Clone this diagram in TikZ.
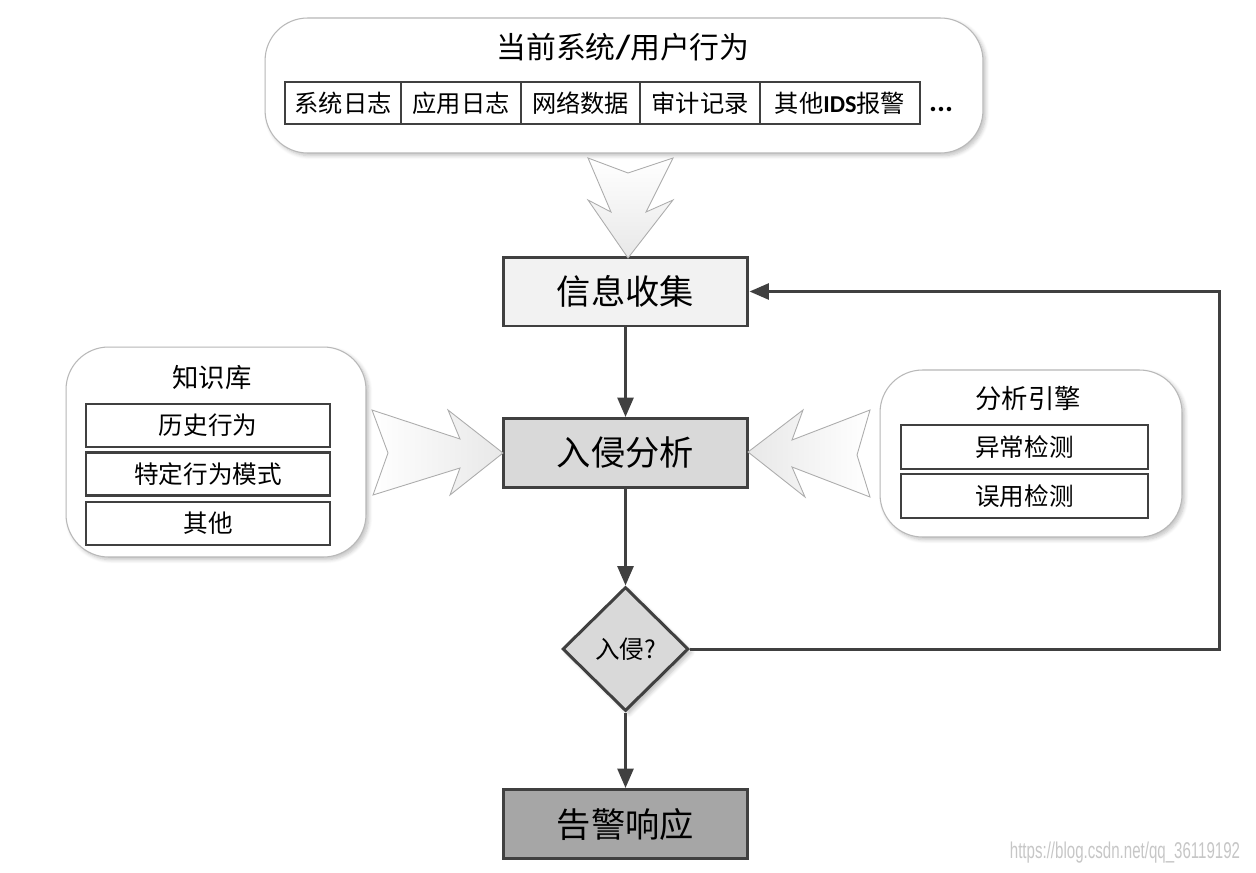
\documentclass[tikz,border=0pt]{standalone}
\usepackage{fontspec}
\setmainfont{Noto Sans CJK SC}
\newfontfamily\latinbold{Carlito}
\newfontfamily\markfont{Liberation Sans}
\usetikzlibrary{shapes.geometric,arrows.meta,shadows.blur}

\definecolor{edgegray}{HTML}{404040}
\definecolor{panelgray}{HTML}{B8B8B8}
\definecolor{fillone}{HTML}{F2F2F2}
\definecolor{filltwo}{HTML}{D9D9D9}
\definecolor{fillthree}{HTML}{A6A6A6}

\tikzset{
  panel/.style={draw=panelgray, fill=white, line width=0.6pt, rounded corners=0.85cm,
    blur shadow={shadow xshift=1.5pt, shadow yshift=-1.5pt, shadow blur steps=6, shadow opacity=25}},
  cell/.style={draw=edgegray, fill=white, line width=1.3pt, inner sep=0pt},
  stage/.style={draw=edgegray, line width=1.7pt, minimum width=4.9cm, minimum height=1.38cm,
    font=\fontsize{19.5}{22}\selectfont},
  conn/.style={draw=edgegray, line width=1.7pt, -{Triangle[length=11pt,width=9pt]}},
  hollow/.style={draw=gray!65, line width=0.5pt},
}

\begin{document}
\begin{tikzpicture}[x=0.02cm, y=-0.02cm]
  \useasboundingbox (0,0) rectangle (1256,872);

  % current behaviour panel
  \node[panel, minimum width=14.36cm, minimum height=2.7cm] (behav) at (624,85.5) {};
  \node[font=\fontsize{17}{20}\selectfont] (behavtitle) at (623,47) {当前系统{\latinbold\bfseries\fontsize{19}{20}\selectfont /}用户行为};
  \begin{scope}[every node/.style={cell, minimum height=0.84cm, font=\fontsize{13.8}{16}\selectfont}]
    \node[minimum width=2.32cm] (syslog) at (343,103) {系统日志};
    \node[minimum width=2.40cm] (applog) at (461,103) {应用日志};
    \node[minimum width=2.38cm] (netdata) at (580.5,103) {网络数据};
    \node[minimum width=2.40cm] (audit) at (700,103) {审计记录};
    \node[minimum width=3.20cm] (otherids) at (840,103) {其他{\latinbold\bfseries IDS}报警};
  \end{scope}
  \node[font=\latinbold\bfseries\fontsize{17}{18}\selectfont, anchor=base] (more) at (941,111) {...};

  % knowledge base panel
  \node[panel, minimum width=6cm, minimum height=4.2cm] (kb) at (216,452) {};
  \node[font=\fontsize{15}{18}\selectfont] (kbtitle) at (212,378) {知识库};
  \begin{scope}[every node/.style={cell, minimum width=4.88cm, minimum height=0.86cm, font=\fontsize{14}{16}\selectfont}]
    \node (history) at (208,425.5) {历史行为};
    \node (pattern) at (208,474) {特定行为模式};
    \node (kbother) at (208,523.5) {其他};
  \end{scope}

  % analysis engine panel
  \node[panel, minimum width=6.04cm, minimum height=3.34cm] (engine) at (1031,453.5) {};
  \node[font=\fontsize{15}{18}\selectfont] (enginetitle) at (1028,398) {分析引擎};
  \begin{scope}[every node/.style={cell, minimum width=4.94cm, minimum height=0.88cm, font=\fontsize{14}{16}\selectfont}]
    \node (anomaly) at (1024.5,447) {异常检测};
    \node (misuse) at (1024.5,496) {误用检测};
  \end{scope}

  % flow
  \node[stage, fill=fillone] (collect) at (625.5,291.5) {信息收集};
  \node[stage, fill=filltwo] (analyse) at (625.5,453) {入侵分析};
  \node[draw=edgegray, fill=filltwo, line width=1.7pt, shape=diamond, aspect=1, inner sep=0pt,
    minimum width=2.52cm, minimum height=2.48cm, font=\fontsize{14}{16}\selectfont,
    blur shadow={shadow xshift=2pt, shadow yshift=-2pt, shadow blur steps=5, shadow opacity=25}]
    (decide) at (625.5,649) {入侵?};
  \node[stage, fill=fillthree] (alarm) at (625.5,824) {告警响应};

  % hollow arrows
  \draw[hollow, top color=white, bottom color=gray!18]
    (588,158) -- (628,173) -- (673,158) -- (646,212) -- (673,200) -- (628,258)
    -- (588,200) -- (611,212) -- cycle;
  \draw[hollow, left color=white, right color=gray!18]
    (372,410) -- (460,439) -- (448,410) -- (503,453) -- (450,495) -- (460,468)
    -- (373,495) -- (388,453) -- cycle;
  \draw[hollow, left color=gray!18, right color=white]
    (870,410) -- (792,440) -- (803,410) -- (748,452) -- (805,497) -- (792,467)
    -- (870,497) -- (857,455) -- cycle;

  % connectors
  \coordinate (loop) at (1219,649);
  \draw[conn] (collect) -- (analyse);
  \draw[conn] (analyse) -- (decide);
  \draw[conn] (decide) -- (alarm);
  \draw[conn] (decide.east) -- (loop) |- (collect.east);

  \node[font=\markfont\fontsize{13}{15}\selectfont, text=gray!45, xscale=0.66] (mark) at (1125,853) {https://blog.csdn.net/qq\_36119192};
\end{tikzpicture}
\end{document}
